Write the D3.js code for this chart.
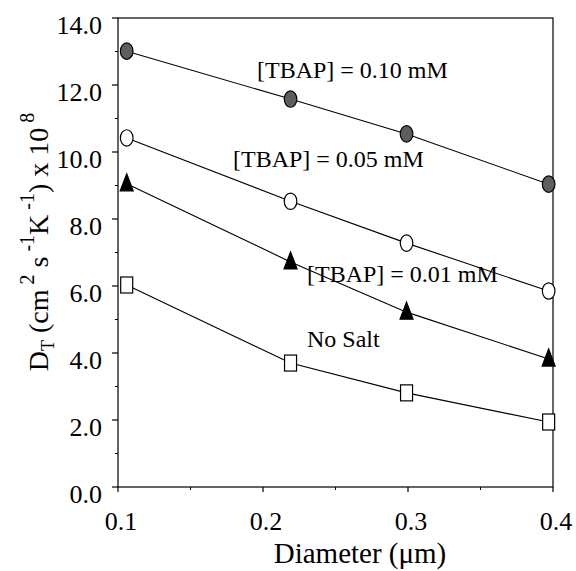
<!DOCTYPE html>
<html><head><meta charset="utf-8">
<script src="https://cdn.jsdelivr.net/npm/d3@7"></script>
<style>body{margin:0;background:#fff}svg{display:block}</style>
</head><body>
<svg id="c" width="576" height="571" font-family="'Liberation Serif', 'Times New Roman', Times, 'DejaVu Serif', serif"></svg>
<script>
const diameters = [0.106, 0.219, 0.299, 0.397];
const tbap010 = [13.01, 11.58, 10.54, 9.04];
const tbap005 = [10.42, 8.53, 7.28, 5.85];
const tbap001 = [9.05, 6.72, 5.22, 3.82];
const noSalt = [6.03, 3.70, 2.81, 1.94];
const xTicks = [0.1, 0.2, 0.3, 0.4];
const yTicks = [0, 2, 4, 6, 8, 10, 12, 14];
const seriesNames = ["[TBAP] = 0.10 mM", "[TBAP] = 0.05 mM", "[TBAP] = 0.01 mM", "No Salt"];

const svg = d3.select("#c");
const x = d3.scaleLinear().domain([0.1, 0.4]).range([118, 553]);
const y = d3.scaleLinear().domain([0, 14]).range([487, 18]);

// frame
svg.append("rect").attr("x", x(0.1)).attr("y", y(14)).attr("width", x(0.4) - x(0.1)).attr("height", y(0) - y(14))
  .attr("fill", "none").attr("stroke", "#000").attr("stroke-width", 1.2);

// y axis ticks
const gy = svg.append("g");
yTicks.forEach(v => {
  gy.append("line").attr("x1", x(0.1) - 6).attr("x2", x(0.1)).attr("y1", y(v)).attr("y2", y(v)).attr("stroke", "#000").attr("stroke-width", 1.2);
  gy.append("text").attr("x", 102).attr("y", y(v) + 16).attr("text-anchor", "end").attr("font-size", 26).text(v.toFixed(1));
});
d3.range(1, 14, 2).forEach(v => {
  gy.append("line").attr("x1", x(0.1) - 3).attr("x2", x(0.1)).attr("y1", y(v)).attr("y2", y(v)).attr("stroke", "#000");
});
// x axis ticks
const gx = svg.append("g");
xTicks.forEach(v => {
  gx.append("line").attr("x1", x(v)).attr("x2", x(v)).attr("y1", y(0)).attr("y2", y(0) + 5).attr("stroke", "#000").attr("stroke-width", 1.2);
  gx.append("text").attr("x", x(v) + 3).attr("y", 530).attr("text-anchor", "middle").attr("font-size", 26).text(v.toFixed(1));
});
[0.15, 0.25, 0.35].forEach(v => {
  gx.append("line").attr("x1", x(v)).attr("x2", x(v)).attr("y1", y(0)).attr("y2", y(0) + 3).attr("stroke", "#000");
});

// axis titles
svg.append("text").attr("x", 360).attr("y", 563).attr("text-anchor", "middle").attr("font-size", 29).text("Diameter (μm)");
const yt = svg.append("text").attr("transform", "translate(48,242) rotate(-90)").attr("text-anchor", "middle").attr("font-size", 28);
yt.append("tspan").text("D");
yt.append("tspan").attr("font-size", 18).attr("dy", 6).text("T");
yt.append("tspan").attr("dy", -6).text(" (cm");
yt.append("tspan").attr("font-size", 20).attr("dy", -14).text(" 2");
yt.append("tspan").attr("dy", 14).text(" s");
yt.append("tspan").attr("font-size", 20).attr("dy", -14).text(" -1");
yt.append("tspan").attr("dy", 14).text("K");
yt.append("tspan").attr("font-size", 20).attr("dy", -14).text(" -1");
yt.append("tspan").attr("dy", 14).text(") x 10");
yt.append("tspan").attr("font-size", 20).attr("dy", -14).text(" 8");

// series
const series = [
  {name: seriesNames[0], vals: tbap010, shape: "circle", fill: "#5e5e5e"},
  {name: seriesNames[1], vals: tbap005, shape: "circle", fill: "#fff"},
  {name: seriesNames[2], vals: tbap001, shape: "triangle", fill: "#000"},
  {name: seriesNames[3], vals: noSalt, shape: "square", fill: "#fff"}
];
const line = d3.line().x((d, i) => x(diameters[i])).y(d => y(d));
series.forEach(s => {
  svg.append("path").attr("d", line(s.vals)).attr("fill", "none").attr("stroke", "#000").attr("stroke-width", 1.1);
});
series.forEach(s => {
  s.vals.forEach((v, i) => {
    const cx = x(diameters[i]), cy = y(v);
    let el;
    if (s.shape === "circle") {
      el = svg.append("ellipse").attr("cx", cx).attr("cy", cy).attr("rx", 6.3).attr("ry", 8.2);
    } else if (s.shape === "square") {
      el = svg.append("rect").attr("x", cx - 6).attr("y", cy - 8).attr("width", 12).attr("height", 16);
    } else {
      el = svg.append("path").attr("d", `M${cx},${cy - 10}L${cx + 6.5},${cy + 7}L${cx - 6.5},${cy + 7}Z`);
    }
    el.attr("fill", s.fill).attr("stroke", "#000").attr("stroke-width", 1.2);
  });
});

// labels
const labelPos = [[257, 78], [233, 167], [307, 282], [307, 347]];
seriesNames.forEach((n, i) => {
  svg.append("text").attr("x", labelPos[i][0]).attr("y", labelPos[i][1]).attr("font-size", 24).text(n);
});
</script>
</body></html>
